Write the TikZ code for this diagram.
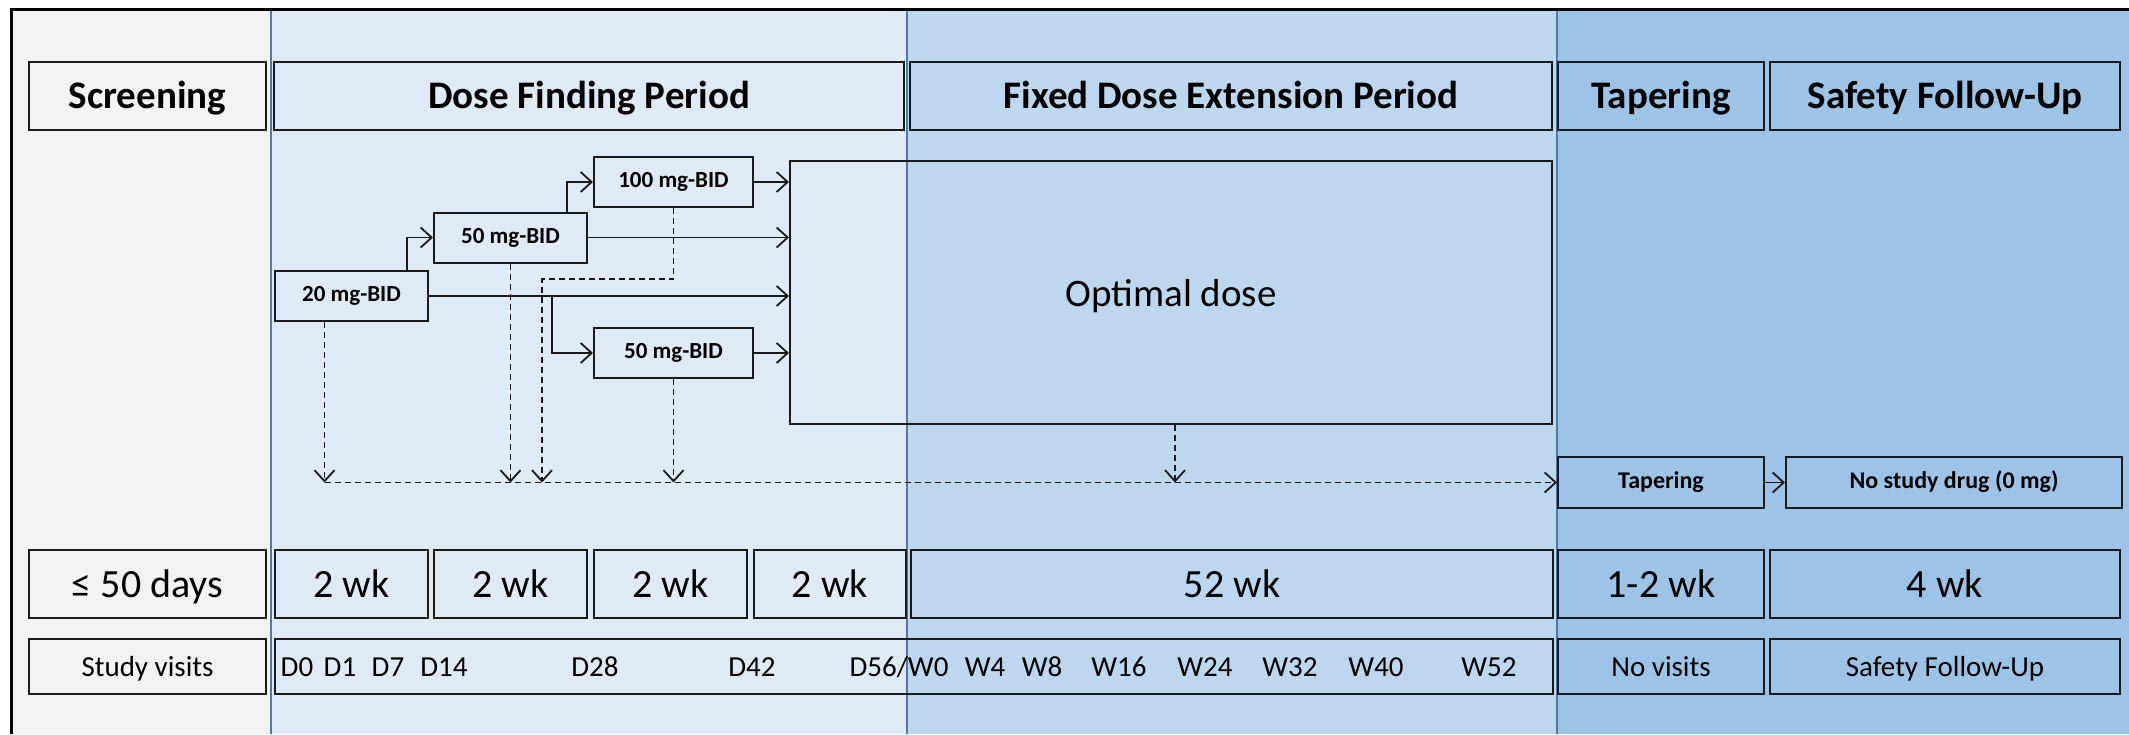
\documentclass[tikz,border=0pt]{standalone}
\usepackage{fontspec}
\setmainfont{Carlito}
\usetikzlibrary{arrows.meta}
\definecolor{screenbg}{HTML}{F2F2F2}
\definecolor{dosebg}{HTML}{DEEBF7}
\definecolor{fixbg}{HTML}{BDD7EE}
\definecolor{tapbg}{HTML}{9DC3E6}
\definecolor{sepline}{HTML}{4F7AA8}
\definecolor{boxline}{HTML}{1A1A1A}

\begin{document}
\begin{tikzpicture}[x=1pt,y=-1pt,
box/.style={rectangle,draw=boxline,line width=2pt,inner sep=0pt},
hdr/.style={box,minimum height=68pt,text height=28pt,text depth=4pt,
font=\fontsize{39}{44}\selectfont\bfseries},
dose/.style={box,minimum width=153pt,minimum height=50pt,text height=15pt,
text depth=4pt,font=\fontsize{23}{26}\selectfont\bfseries},
small/.style={box,minimum height=51pt,text height=16pt,text depth=5pt,
font=\fontsize{24}{28}\selectfont\bfseries},
dur/.style={box,minimum height=68pt,text height=30pt,text depth=4pt,
font=\fontsize{40}{46}\selectfont},
visit/.style={box,minimum height=55pt,text height=22pt,text depth=3pt,
font=\fontsize{29}{33}\selectfont},
lbl/.style={inner sep=0pt,text height=22pt,text depth=3pt,
font=\fontsize{29}{33}\selectfont},
link/.style={line width=1.8pt,draw=boxline,-{Straight Barb[length=11pt,width=20pt]}},
dlink/.style={link,dash pattern=on 6pt off 4pt}]
\useasboundingbox (0,0) rectangle (2129,734);
\fill[screenbg] (11,9) rectangle (271,734);
\fill[dosebg] (271,9) rectangle (907,734);
\fill[fixbg] (907,9) rectangle (1557,734);
\fill[tapbg] (1557,9) rectangle (2129,734);
\draw[sepline,line width=2pt] (271,9) -- (271,734) (907,9) -- (907,734)
(1557,9) -- (1557,734);
\draw[black,line width=3pt] (11,734) -- (11,9) -- (2129,9);

\node[hdr,minimum width=237pt] (scr) at (147.5,96) {Screening};
\node[hdr,minimum width=630pt] (dfp) at (589,96) {Dose Finding Period};
\node[hdr,minimum width=642pt] (fdp) at (1231,96) {Fixed Dose Extension Period};
\node[hdr,minimum width=206pt] (tph) at (1661,96) {Tapering};
\node[hdr,minimum width=350pt] (sfh) at (1945,96) {Safety Follow-Up};

\node[dose] (d20) at (351.5,296) {20 mg-BID};
\node[dose] (d50a) at (510.5,237.5) {50 mg-BID};
\node[dose,minimum width=159pt] (d100) at (673.5,182) {100 mg-BID};
\node[dose,minimum width=159pt] (d50b) at (673.5,353) {50 mg-BID};
\node[box,minimum width=762pt,minimum height=263pt,text height=30pt,
text depth=3pt,font=\fontsize{39}{44}\selectfont] (opt) at (1171,292.5) {Optimal dose};

\node[small,minimum width=206pt] (tap) at (1661,482.5) {Tapering};
\node[small,minimum width=336pt] (nodrug) at (1954,482.5) {No study drug (0 mg)};

\node[dur,minimum width=237pt] (tscr) at (147.5,584) {≤ 50 days};
\node[dur,minimum width=153pt] (tw1) at (351.5,584) {2 wk};
\node[dur,minimum width=153pt] (tw2) at (510.5,584) {2 wk};
\node[dur,minimum width=153pt] (tw3) at (670.5,584) {2 wk};
\node[dur,minimum width=152pt] (tw4) at (830,584) {2 wk};
\node[dur,minimum width=642pt] (tfix) at (1232,584) {52 wk};
\node[dur,minimum width=206pt] (ttap) at (1661,584) {1-2 wk};
\node[dur,minimum width=350pt] (tsaf) at (1945,584) {4 wk};

\node[visit,minimum width=237pt] (vscr) at (147.5,666.5) {Study visits};
\node[visit,minimum width=1278pt] (vrow) at (914,666.5) {};
\node[visit,minimum width=206pt] (vtap) at (1661,666.5) {No visits};
\node[visit,minimum width=350pt] (vsaf) at (1945,666.5) {Safety Follow-Up};

\node[lbl] (vd0) at (297,666.5) {D0};
\node[lbl] (vd1) at (340,666.5) {D1};
\node[lbl] (vd7) at (388,666.5) {D7};
\node[lbl] (vd14) at (444,666.5) {D14};
\node[lbl] (vd28) at (595,666.5) {D28};
\node[lbl] (vd42) at (752,666.5) {D42};
\node[lbl] (vd56) at (899,666.5) {D56/W0};
\node[lbl] (vw4) at (985,666.5) {W4};
\node[lbl] (vw8) at (1042,666.5) {W8};
\node[lbl] (vw16) at (1119,666.5) {W16};
\node[lbl] (vw24) at (1205,666.5) {W24};
\node[lbl] (vw32) at (1290,666.5) {W32};
\node[lbl] (vw40) at (1376,666.5) {W40};
\node[lbl] (vw52) at (1489,666.5) {W52};

\draw[link] (d20.east) -- (d20.east -| opt.west);
\draw[link] ([xshift=55.5pt]d20.north) |- (d50a.west);
\draw[link] ([xshift=56.5pt]d50a.north) |- (d100.west);
\draw[link] (d50a.east) -- (d50a.east -| opt.west);
\draw[link] (d100.east) -- (d100.east -| opt.west);
\draw[link] (d50b.east) -- (d50b.east -| opt.west);
\coordinate (br) at ([xshift=-41pt]d50b.west);
\draw[link] (br |- d20.east) |- (d50b.west);

\coordinate (dl) at ([xshift=-27pt]d20.south);
\coordinate (bend) at (542,279);
\draw[dlink] (dl) -- (dl |- tap.west);
\draw[dlink] (d50a.south) -- (d50a.south |- tap.west);
\draw[dlink] (d100.south) |- (bend) -- (bend |- tap.west);
\draw[dlink] (d50b.south) -- (d50b.south |- tap.west);
\draw[dlink] ([xshift=4pt]opt.south) -- ([xshift=4pt]opt.south |- tap.west);
\draw[dlink] (dl |- tap.west) -- (tap.west);
\draw[link] (tap.east) -- (nodrug.west);
\end{tikzpicture}
\end{document}
